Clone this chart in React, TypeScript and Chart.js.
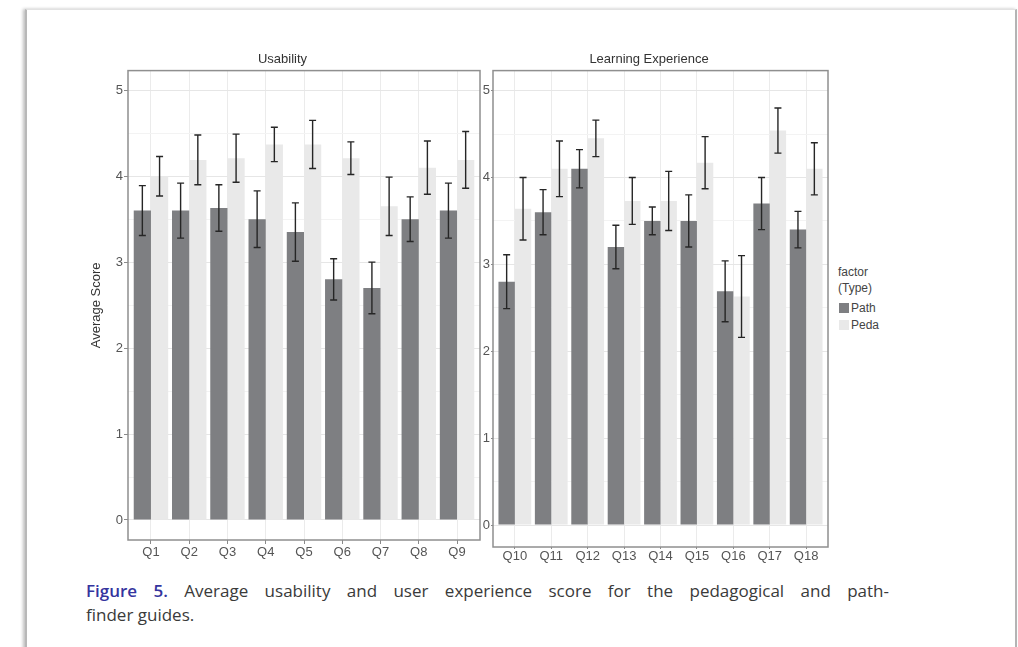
import React, { useEffect, useRef } from 'react';
import { Chart, registerables } from 'chart.js';

Chart.register(...registerables);

// ---------- data ----------
const usabilityLabels = ['Q1', 'Q2', 'Q3', 'Q4', 'Q5', 'Q6', 'Q7', 'Q8', 'Q9'];
const usabilityPath = [3.6, 3.6, 3.63, 3.5, 3.35, 2.8, 2.7, 3.5, 3.6];
const usabilityPathErr = [0.29, 0.32, 0.27, 0.33, 0.34, 0.24, 0.3, 0.26, 0.32];
const usabilityPeda = [4.0, 4.19, 4.21, 4.37, 4.37, 4.21, 3.65, 4.1, 4.19];
const usabilityPedaErr = [0.23, 0.29, 0.28, 0.2, 0.28, 0.19, 0.34, 0.31, 0.33];

const learningLabels = ['Q10', 'Q11', 'Q12', 'Q13', 'Q14', 'Q15', 'Q16', 'Q17', 'Q18'];
const learningPath = [2.8, 3.6, 4.1, 3.2, 3.5, 3.5, 2.69, 3.7, 3.4];
const learningPathErr = [0.31, 0.26, 0.22, 0.25, 0.16, 0.3, 0.35, 0.3, 0.21];
const learningPeda = [3.64, 4.1, 4.45, 3.73, 3.73, 4.17, 2.63, 4.54, 4.1];
const learningPedaErr = [0.36, 0.32, 0.21, 0.27, 0.34, 0.3, 0.47, 0.26, 0.3];

const seriesNames = ['Path', 'Peda'];
const yMajorTicks = [0, 1, 2, 3, 4, 5];
const yMinorTicks = [0.5, 1.5, 2.5, 3.5, 4.5];

const PATH_COLOR = '#7e7f82';
const PEDA_COLOR = '#e9e9e9';
const FONT = "'Liberation Sans', Arial, Helvetica, sans-serif";
const CAPTION_FONT = "'Open Sans', 'Liberation Sans', sans-serif";

// ---------- plugins ----------
const errorBarPlugin = {
  id: 'errorBars',
  afterDatasetsDraw(chart: any) {
    const ctx = chart.ctx;
    const yScale = chart.scales.y;
    ctx.save();
    ctx.strokeStyle = '#262626';
    ctx.lineWidth = 1.4;
    chart.data.datasets.forEach((ds: any, i: number) => {
      const meta = chart.getDatasetMeta(i);
      meta.data.forEach((bar: any, j: number) => {
        const v = ds.data[j].y;
        const e = ds.errors[j];
        const yTop = yScale.getPixelForValue(v + e);
        const yBot = yScale.getPixelForValue(v - e);
        const x = bar.x;
        const cap = 3.5;
        ctx.beginPath();
        ctx.moveTo(x, yTop);
        ctx.lineTo(x, yBot);
        ctx.moveTo(x - cap, yTop);
        ctx.lineTo(x + cap, yTop);
        ctx.moveTo(x - cap, yBot);
        ctx.lineTo(x + cap, yBot);
        ctx.stroke();
      });
    });
    ctx.restore();
  },
};

const framePlugin = {
  id: 'panelFrame',
  afterDraw(chart: any) {
    const { left, top, right, bottom } = chart.chartArea;
    const ctx = chart.ctx;
    ctx.save();
    ctx.strokeStyle = '#8f8f8f';
    ctx.lineWidth = 1.5;
    ctx.strokeRect(left, top, right - left, bottom - top);
    ctx.restore();
  },
};

type PanelProps = {
  left: number;
  top: number;
  width: number;
  height: number;
  title: string;
  labels: string[];
  path: number[];
  pathErr: number[];
  peda: number[];
  pedaErr: number[];
  yTitle?: string;
  yMin: number;
  yMax: number;
  yAxisWidth: number;
  tickLen: number;
  xLabelPad: number;
};

function Panel(p: PanelProps) {
  const ref = useRef<HTMLCanvasElement | null>(null);
  useEffect(() => {
    if (!ref.current) return;
    const toPoints = (vals: number[]) => vals.map((v, i) => ({ x: i + 1, y: v }));
    const chart = new Chart(ref.current, {
      type: 'bar',
      data: {
        datasets: [
          {
            label: seriesNames[0],
            data: toPoints(p.path),
            errors: p.pathErr,
            backgroundColor: PATH_COLOR,
            borderWidth: 0,
            categoryPercentage: 0.9,
            barPercentage: 1.0,
          } as any,
          {
            label: seriesNames[1],
            data: toPoints(p.peda),
            errors: p.pedaErr,
            backgroundColor: PEDA_COLOR,
            borderWidth: 0,
            categoryPercentage: 0.9,
            barPercentage: 1.0,
          } as any,
        ],
      },
      options: {
        responsive: false,
        animation: false,
        layout: { padding: { left: 0, right: 2, top: 0, bottom: 0 } },
        font: { family: FONT },
        plugins: {
          legend: { display: false },
          tooltip: { enabled: false },
          title: {
            display: true,
            text: p.title,
            color: '#333333',
            font: { family: FONT, size: 13, weight: 'normal' },
            padding: { top: 4, bottom: 3 },
          },
        },
        scales: {
          x: {
            type: 'linear',
            min: 0.4,
            max: p.labels.length + 0.6,
            offset: false,
            afterBuildTicks: (scale: any) => {
              scale.ticks = p.labels.map((_, i) => ({ value: i + 1 }));
            },
            afterFit: (scale: any) => {
              scale.height = 30;
            },
            ticks: {
              autoSkip: false,
              maxRotation: 0,
              padding: p.xLabelPad,
              color: '#555555',
              font: { family: FONT, size: 13 },
              callback: (v: any) => p.labels[Math.round(Number(v)) - 1] ?? '',
            },
            grid: {
              offset: false,
              color: '#ebebeb',
              lineWidth: 1,
              tickLength: p.tickLen,
              tickColor: '#8a8a8a',
            },
            border: { display: false },
          },
          y: {
            type: 'linear',
            min: p.yMin,
            max: p.yMax,
            afterBuildTicks: (scale: any) => {
              const all = [...yMajorTicks, ...yMinorTicks].sort((a, b) => a - b);
              scale.ticks = all.map((v) => ({ value: v }));
            },
            afterFit: (scale: any) => {
              scale.width = p.yAxisWidth;
            },
            ticks: {
              padding: 1,
              color: '#555555',
              font: { family: FONT, size: 13 },
              callback: (v: any) => (yMajorTicks.includes(Number(v)) ? String(v) : ''),
            },
            grid: {
              color: (c: any) =>
                c.tick && yMajorTicks.includes(c.tick.value) ? '#e6e6e6' : '#f3f3f3',
              tickColor: (c: any) =>
                c.tick && yMajorTicks.includes(c.tick.value) ? '#8a8a8a' : 'rgba(0,0,0,0)',
              tickLength: p.tickLen,
            },
            border: { display: false },
            title: p.yTitle
              ? {
                  display: true,
                  text: p.yTitle,
                  color: '#333333',
                  font: { family: FONT, size: 13 },
                  padding: { top: 4, bottom: 0 },
                }
              : { display: false },
          },
        },
      } as any,
      plugins: [errorBarPlugin, framePlugin],
    });
    return () => chart.destroy();
  }, []);
  return (
    <canvas
      ref={ref}
      width={p.width}
      height={p.height}
      style={{ position: 'absolute', left: p.left, top: p.top, width: p.width, height: p.height }}
    />
  );
}

export default function App() {
  const legendText: React.CSSProperties = {
    position: 'absolute',
    fontFamily: FONT,
    fontSize: 12,
    color: '#444',
    lineHeight: '14px',
    whiteSpace: 'nowrap',
  };
  return (
    <div
      style={{
        position: 'absolute',
        left: 0,
        top: 0,
        width: 1018,
        height: 647,
        overflow: 'hidden',
        background: '#ffffff',
      }}
    >
      <div
        style={{
          position: 'absolute',
          left: 25,
          top: 9,
          width: 988,
          height: 700,
          background: '#ffffff',
          borderTop: '1px solid #e2e2e2',
          borderLeft: '2px solid #b8b8b8',
          borderRight: '2px solid #b4b4b4',
          boxShadow: '-2px 0 3px rgba(0,0,0,0.25)',
        }}
      />
      <Panel
        left={85}
        top={48}
        width={397}
        height={522}
        title="Usability"
        labels={usabilityLabels}
        path={usabilityPath}
        pathErr={usabilityPathErr}
        peda={usabilityPeda}
        pedaErr={usabilityPedaErr}
        yTitle="Average Score"
        yMin={-0.233}
        yMax={5.229}
        yAxisWidth={43}
        tickLen={4}
        xLabelPad={1}
      />
      <Panel
        left={470}
        top={48}
        width={360}
        height={529}
        title="Learning Experience"
        labels={learningLabels}
        path={learningPath}
        pathErr={learningPathErr}
        peda={learningPeda}
        pedaErr={learningPedaErr}
        yMin={-0.253}
        yMax={5.23}
        yAxisWidth={23}
        tickLen={2}
        xLabelPad={0}
      />
      {/* legend */}
      <div style={{ ...legendText, left: 838, top: 265 }}>factor</div>
      <div style={{ ...legendText, left: 838, top: 281 }}>(Type)</div>
      <div
        style={{ position: 'absolute', left: 839, top: 303, width: 10, height: 10, background: PATH_COLOR }}
      />
      <div style={{ ...legendText, left: 851, top: 301 }}>{seriesNames[0]}</div>
      <div
        style={{ position: 'absolute', left: 839, top: 320, width: 10, height: 10, background: PEDA_COLOR }}
      />
      <div style={{ ...legendText, left: 851, top: 318 }}>{seriesNames[1]}</div>
      {/* caption */}
      <div
        style={{
          position: 'absolute',
          left: 86,
          top: 579,
          width: 803,
          fontFamily: CAPTION_FONT,
          fontSize: 17,
          lineHeight: '24px',
          color: '#3a3a3a',
        }}
      >
        <div style={{ textAlign: 'justify', textAlignLast: 'justify' as any }}>
          <span style={{ color: '#34349e', fontWeight: 600 }}>Figure 5.</span> Average usability and user
          experience score for the pedagogical and path-
        </div>
        <div>finder guides.</div>
      </div>
    </div>
  );
}
